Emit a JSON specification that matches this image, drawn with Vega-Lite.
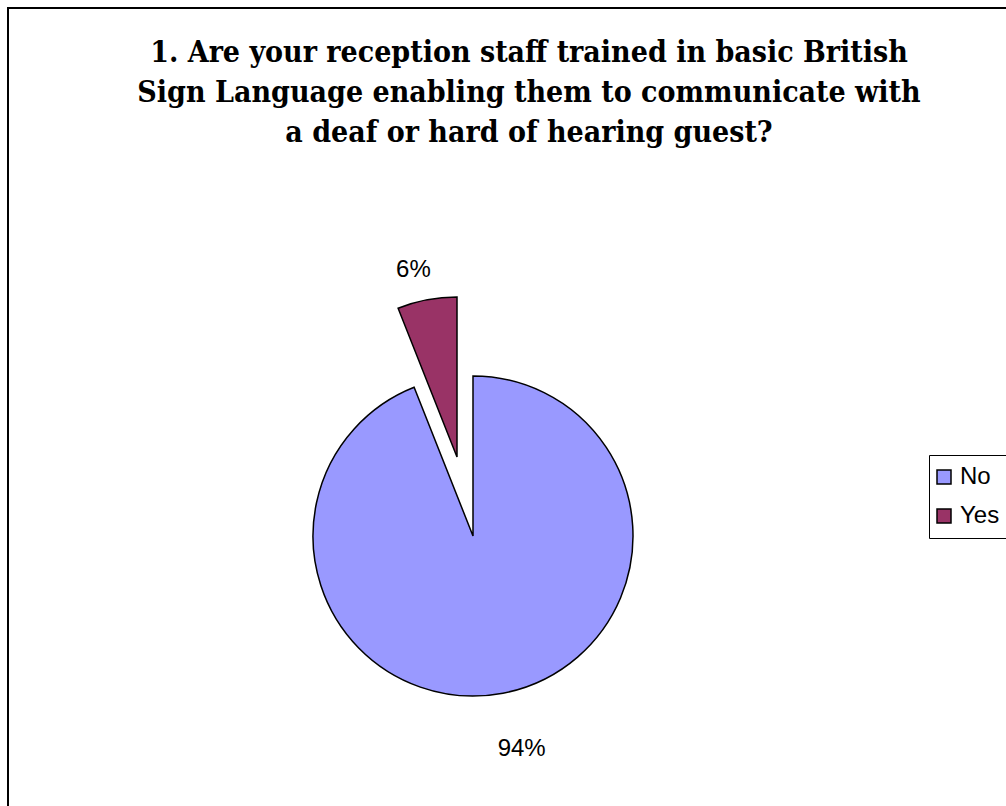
{
  "$schema": "https://vega.github.io/schema/vega-lite/v6.json",
  "autosize": "none",
  "width": 1002,
  "height": 802,
  "padding": {"left": 8, "top": 8, "right": -4, "bottom": -4},
  "background": "white",
  "config": {
    "view": {"stroke": null},
    "font": "Liberation Sans"
  },
  "title": {
    "text": ["1. Are your reception staff trained in basic British", "Sign Language enabling them to communicate with", "a deaf or hard of hearing guest?"],
    "anchor": "middle",
    "frame": "group",
    "orient": "top",
    "font": "DejaVu Serif Condensed, DejaVu Serif",
    "fontSize": 30,
    "fontWeight": "bold",
    "color": "black",
    "lineHeight": 40,
    "baseline": "top",
    "dx": 20,
    "dy": 145
  },
  "data": {
    "values": [
      {"answer": "No", "share": 0.94},
      {"answer": "Yes", "share": 0.06}
    ]
  },
  "layer": [
    {
      "data": {"values": [{"frame": "chart"}]},
      "mark": {"type": "rect", "filled": false, "stroke": "black", "strokeWidth": 2},
      "encoding": {}
    },
    {
      "mark": {"type": "arc", "radius": 160, "stroke": "black", "strokeWidth": 1.5, "xOffset": -36, "yOffset": 127},
      "encoding": {
        "theta": {"field": "share", "type": "quantitative", "stack": true},
        "order": {"field": "share", "type": "quantitative", "sort": "descending"},
        "color": {
          "field": "answer", "type": "nominal",
          "scale": {"domain": ["No", "Yes"], "range": ["#9999FF", "#993366"]},
          "legend": {
            "title": null,
            "orient": "none",
            "legendX": 921,
            "legendY": 447,
            "fillColor": "white",
            "strokeColor": "black",
            "padding": 10,
            "symbolType": "square",
            "symbolSize": 196,
            "symbolOffset": -7,
            "symbolStrokeColor": "black",
            "symbolStrokeWidth": 1.5,
            "labelFont": "Liberation Sans",
            "labelFontSize": 24,
            "labelColor": "black",
            "labelOffset": 4,
            "rowPadding": 15
          }
        },
        "opacity": {"condition": {"test": "datum.answer === 'Yes'", "value": 0}, "value": 1}
      }
    },
    {
      "mark": {"type": "arc", "radius": 160, "stroke": "black", "strokeWidth": 1.5, "xOffset": -52, "yOffset": 48},
      "encoding": {
        "theta": {"field": "share", "type": "quantitative", "stack": true},
        "order": {"field": "share", "type": "quantitative", "sort": "descending"},
        "color": {"field": "answer", "type": "nominal"},
        "opacity": {"condition": {"test": "datum.answer === 'No'", "value": 0}, "value": 1}
      }
    },
    {
      "mark": {"type": "text", "radius": 217, "fontSize": 24, "font": "Liberation Sans", "color": "black", "align": "center", "baseline": "middle", "xOffset": -28, "yOffset": 127},
      "encoding": {
        "theta": {"field": "share", "type": "quantitative", "stack": true},
        "order": {"field": "share", "type": "quantitative", "sort": "descending"},
        "detail": {"field": "answer", "type": "nominal"},
        "text": {"field": "share", "type": "quantitative", "format": ".0%"},
        "opacity": {"condition": {"test": "datum.answer === 'Yes'", "value": 0}, "value": 1}
      }
    },
    {
      "mark": {"type": "text", "radius": 190, "fontSize": 24, "font": "Liberation Sans", "color": "black", "align": "center", "baseline": "middle", "xOffset": -60, "yOffset": 48},
      "encoding": {
        "theta": {"field": "share", "type": "quantitative", "stack": true},
        "order": {"field": "share", "type": "quantitative", "sort": "descending"},
        "detail": {"field": "answer", "type": "nominal"},
        "text": {"field": "share", "type": "quantitative", "format": ".0%"},
        "opacity": {"condition": {"test": "datum.answer === 'No'", "value": 0}, "value": 1}
      }
    }
  ]
}
